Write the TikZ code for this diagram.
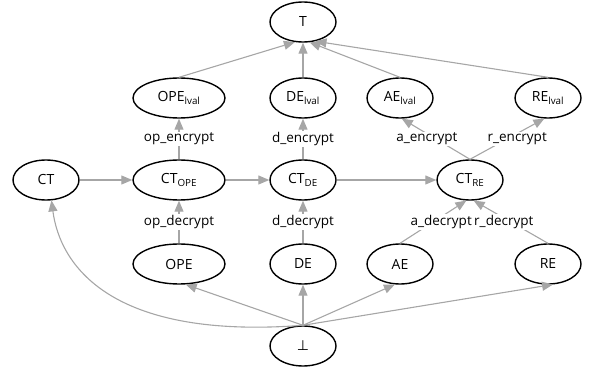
\documentclass[tikz,border=0pt]{standalone}
\usepackage{fontspec}
\setmainfont{Open Sans}
\newfontfamily\symfont{DejaVu Sans}
\usetikzlibrary{arrows.meta, shapes.geometric}
\definecolor{edgegray}{RGB}{166,166,166}

\tikzset{
    state/.style = {draw, ellipse, line width=1.4pt, minimum width=66pt, minimum height=40pt,
                    inner sep=0pt, font=\fontsize{14}{16}\selectfont},
    widestate/.style = {state, minimum width=92pt},
    flow/.style = {draw=edgegray, line width=1.1pt, -{Triangle[length=11pt, width=9pt]}},
    lbl/.style = {fill=white, inner sep=1pt, font=\fontsize{13.5}{15}\selectfont}
}

\begin{document}
\begin{tikzpicture}[x=1pt, y=-1pt]
            \useasboundingbox (0, 0) rectangle (598, 374);

            % nodes
            \node[state] (top) at (303, 22) {T};

            \node[widestate] (opelval) at (179, 98) {OPE\textsubscript{lval}};
            \node[state] (delval) at (303, 98) {DE\textsubscript{lval}};
            \node[state] (aelval) at (400, 98) {AE\textsubscript{lval}};
            \node[state] (relval) at (548, 98) {RE\textsubscript{lval}};

            \node[state] (ct) at (46, 180) {CT};
            \node[widestate] (ctope) at (179, 180) {CT\textsubscript{OPE}};
            \node[state] (ctde) at (303, 180) {CT\textsubscript{DE}};
            \node[state] (ctre) at (470, 180) {CT\textsubscript{RE}};

            \node[widestate] (ope) at (179, 264) {OPE};
            \node[state] (de) at (303, 264) {DE};
            \node[state] (ae) at (400, 264) {AE};
            \node[state] (re) at (548, 264) {RE};

            \node[state] (bot) at (303, 346) {{\symfont ⊥}};

            % lval -> T
            \draw[flow] (opelval.north) -- (top.-112);
            \draw[flow] (delval.north) -- (top.south);
            \draw[flow] (aelval.north) -- (top.-72);
            \draw[flow] (relval.north) -- (top.-57);

            % ciphertext chain
            \draw[flow] (ct) -- (ctope);
            \draw[flow] (ctope) -- (ctde);
            \draw[flow] (ctde) -- (ctre);

            % encrypt
            \draw[flow] (ctope) -- node[lbl] {op\_encrypt} (opelval);
            \draw[flow] (ctde) -- node[lbl] {d\_encrypt} (delval);
            \draw[flow] (ctre.north) -- node[lbl, xshift=-9] {a\_encrypt} (aelval.-85);
            \draw[flow] (ctre.north) -- node[lbl, xshift=10] {r\_encrypt} (relval.-100);

            % decrypt
            \draw[flow] (ope) -- node[lbl] {op\_decrypt} (ctope);
            \draw[flow] (de) -- node[lbl] {d\_decrypt} (ctde);
            \draw[flow] (ae.north) -- node[lbl, xshift=8] {a\_decrypt} (ctre.-100);
            \draw[flow] (re.north) -- node[lbl, xshift=-7] {r\_decrypt} (ctre.-80);

            % bottom -> everything
            \draw[flow] (bot.north) -- (ope.-72);
            \draw[flow] (bot.north) -- (de.south);
            \draw[flow] (bot.north) -- (ae.-104);
            \draw[flow] (bot.north) -- (re.-76);
            \draw[flow] (bot.north) .. controls (110, 340) and (60, 265) .. (ct.-75);
\end{tikzpicture}
\end{document}
